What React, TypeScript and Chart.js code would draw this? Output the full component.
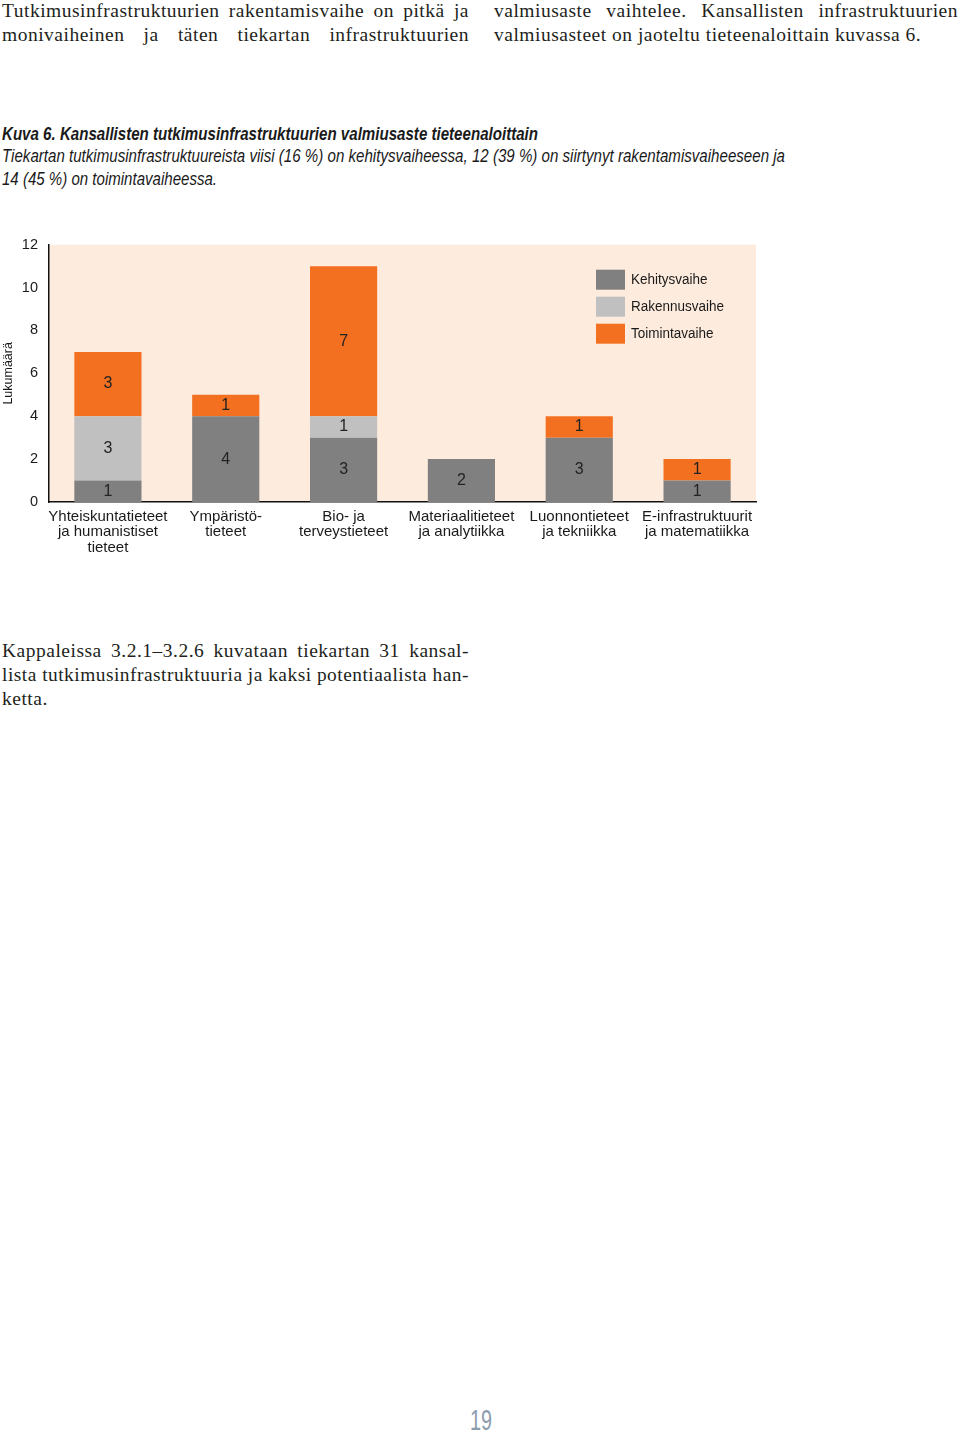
import React, { useEffect, useLayoutEffect, useRef } from "react";
import { Chart, registerables } from "chart.js";

Chart.register(...registerables);

// ---------- data ----------
const categories: string[][] = [
  ["Yhteiskuntatieteet", "ja humanistiset", "tieteet"],
  ["Ympäristö-", "tieteet"],
  ["Bio- ja", "terveystieteet"],
  ["Materiaalitieteet", "ja analytiikka"],
  ["Luonnontieteet", "ja tekniikka"],
  ["E-infrastruktuurit", "ja matematiikka"],
];
const seriesLabels = ["Kehitysvaihe", "Rakennusvaihe", "Toimintavaihe"];
const kehitysvaihe = [1, 4, 3, 2, 3, 1];
const rakennusvaihe = [3, 0, 1, 0, 0, 0];
const toimintavaihe = [3, 1, 7, 0, 1, 1];
const yTicks = [0, 2, 4, 6, 8, 10, 12];
const yTitle = "Lukumäärä";

const topLeftLines = [
  "Tutkimusinfrastruktuurien rakentamisvaihe on pitkä ja",
  "monivaiheinen ja täten tiekartan infrastruktuurien",
];
const topRightLines = [
  "valmiusaste vaihtelee. Kansallisten infrastruktuurien",
  "valmiusasteet on jaoteltu tieteenaloittain kuvassa 6.",
];
const captionTitle = "Kuva 6. Kansallisten tutkimusinfrastruktuurien valmiusaste tieteenaloittain";
const captionLines = [
  "Tiekartan tutkimusinfrastruktuureista viisi (16 %) on kehitysvaiheessa, 12 (39 %) on siirtynyt rakentamisvaiheeseen ja",
  "14 (45 %) on toimintavaiheessa.",
];
const bottomLines = [
  "Kappaleissa 3.2.1–3.2.6 kuvataan tiekartan 31 kansal-",
  "lista tutkimusinfrastruktuuria ja kaksi potentiaalista han-",
  "ketta.",
];
const pageNumber = "19";

// ---------- styles ----------
const DARK = "#808080";
const LIGHT = "#c0c0c0";
const ORANGE = "#f37021";
const PLOT_BG = "#fdebdd";
const SANS = "'Liberation Sans', Arial, sans-serif";
const SERIF = "'Liberation Serif', 'Times New Roman', serif";

type LineProps = {
  text: string;
  x: number;
  y: number;
  width: number;
  mode: "justify" | "left" | "fit";
  style: React.CSSProperties;
};

function Line({ text, x, y, width, mode, style }: LineProps) {
  const ref = useRef<HTMLSpanElement>(null);
  useLayoutEffect(() => {
    const apply = () => {
      const el = ref.current;
      if (!el) return;
      el.style.wordSpacing = "0px";
      el.style.transform = "none";
      const natural = el.getBoundingClientRect().width;
      const spaces = (text.match(/ /g) || []).length;
      if (mode === "fit" || natural > width) {
        el.style.transform = `scaleX(${width / natural})`;
      } else if (mode === "justify" && spaces > 0) {
        el.style.wordSpacing = `${(width - natural) / spaces}px`;
      }
    };
    apply();
    if ((document as any).fonts && (document as any).fonts.ready) {
      (document as any).fonts.ready.then(apply);
    }
  }, [text, width, mode]);
  return (
    <span
      ref={ref}
      style={{
        position: "absolute",
        left: x,
        top: y,
        whiteSpace: "pre",
        transformOrigin: "left top",
        display: "inline-block",
        ...style,
      }}
    >
      {text}
    </span>
  );
}

function BarChart() {
  const ref = useRef<HTMLCanvasElement>(null);
  useEffect(() => {
    if (!ref.current) return;
    const bgPlugin = {
      id: "plotBg",
      beforeDraw(chart: any) {
        const { ctx, chartArea: a } = chart;
        ctx.save();
        ctx.fillStyle = PLOT_BG;
        ctx.fillRect(a.left, a.top, a.right - a.left, a.bottom - a.top);
        ctx.restore();
      },
    };
    const valuePlugin = {
      id: "values",
      afterDatasetsDraw(chart: any) {
        const { ctx } = chart;
        ctx.save();
        ctx.font = `16px ${SANS}`;
        ctx.fillStyle = "#222";
        ctx.textAlign = "center";
        ctx.textBaseline = "middle";
        chart.data.datasets.forEach((ds: any, di: number) => {
          const meta = chart.getDatasetMeta(di);
          meta.data.forEach((el: any, i: number) => {
            const v = ds.data[i];
            if (!v) return;
            ctx.fillText(String(v), el.x, (el.y + el.base) / 2);
          });
        });
        ctx.restore();
      },
    };
    const legendPlugin = {
      id: "insideLegend",
      afterDraw(chart: any) {
        const { ctx, chartArea: a } = chart;
        const x0 = a.right - 160;
        const y0 = a.top + 25;
        chart.data.datasets.forEach((ds: any, i: number) => {
          const y = y0 + i * 27;
          ctx.save();
          ctx.fillStyle = ds.backgroundColor;
          ctx.fillRect(x0, y, 29, 20);
          ctx.font = `15.5px ${SANS}`;
          ctx.textAlign = "left";
          ctx.textBaseline = "middle";
          ctx.fillStyle = "#1a1a1a";
          ctx.translate(x0 + 35, y + 10);
          ctx.scale(0.87, 1);
          ctx.fillText(ds.label, 0, 0);
          ctx.restore();
        });
      },
    };
    const chart = new Chart(ref.current, {
      type: "bar",
      data: {
        labels: categories as any,
        datasets: [
          { label: seriesLabels[0], data: kehitysvaihe, backgroundColor: DARK },
          { label: seriesLabels[1], data: rakennusvaihe, backgroundColor: LIGHT },
          { label: seriesLabels[2], data: toimintavaihe, backgroundColor: ORANGE },
        ],
      },
      options: {
        responsive: false,
        animation: false,
        devicePixelRatio: 1,
        layout: { padding: { top: 19, right: 4, left: 0, bottom: 0 } },
        datasets: { bar: { barPercentage: 0.57, categoryPercentage: 1 } } as any,
        plugins: { legend: { display: false }, tooltip: { enabled: false } },
        scales: {
          x: {
            stacked: true,
            grid: { display: false, drawTicks: false },
            border: { display: true, color: "#111", width: 1.5 },
            ticks: {
              font: { family: SANS, size: 15, lineHeight: 1.03 },
              color: "#1a1a1a",
              padding: 7,
              maxRotation: 0,
              autoSkip: false,
            },
            afterFit(s: any) {
              s.height = 68;
            },
          },
          y: {
            stacked: true,
            min: 0,
            max: 12,
            grid: { display: false, drawTicks: false },
            border: { display: true, color: "#111", width: 1.5 },
            ticks: {
              font: { family: SANS, size: 14.5 },
              color: "#1a1a1a",
              padding: 11,
            },
            afterBuildTicks(s: any) {
              s.ticks = yTicks.map((v) => ({ value: v }));
            },
            title: {
              display: true,
              text: yTitle,
              font: { family: SANS, size: 12.5 },
              color: "#1a1a1a",
              padding: { top: 1, bottom: 0 },
            },
            afterFit(s: any) {
              s.width = 49;
            },
          },
        },
      },
      plugins: [bgPlugin, valuePlugin, legendPlugin],
    });
    return () => chart.destroy();
  }, []);
  return (
    <canvas
      ref={ref}
      width={760}
      height={345}
      style={{ position: "absolute", left: 0, top: 225, width: 760, height: 345 }}
    />
  );
}

export default function App() {
  const serif: React.CSSProperties = {
    fontFamily: SERIF,
    fontSize: 19.5,
    letterSpacing: "0.5px",
    lineHeight: "24px",
    color: "#231f20",
  };
  const capBold: React.CSSProperties = {
    fontFamily: SANS,
    fontSize: 18,
    lineHeight: "22px",
    fontWeight: "bold",
    fontStyle: "italic",
    color: "#1a1a1a",
  };
  const capIt: React.CSSProperties = {
    fontFamily: SANS,
    fontSize: 18,
    lineHeight: "22px",
    fontStyle: "italic",
    color: "#1a1a1a",
  };
  return (
    <div
      style={{
        position: "absolute",
        left: 0,
        top: 0,
        width: 960,
        height: 1437,
        background: "#fff",
        overflow: "hidden",
      }}
    >
      {topLeftLines.map((t, i) => (
        <Line key={"tl" + i} text={t} x={2} y={-1 + i * 24} width={467} mode="justify" style={serif} />
      ))}
      {topRightLines.map((t, i) => (
        <Line
          key={"tr" + i}
          text={t}
          x={494}
          y={-1 + i * 24}
          width={i === 0 ? 464 : 428}
          mode={i === 0 ? "justify" : "left"}
          style={serif}
        />
      ))}
      <Line text={captionTitle} x={2} y={123} width={536} mode="fit" style={capBold} />
      <Line text={captionLines[0]} x={2} y={145} width={783} mode="fit" style={capIt} />
      <Line text={captionLines[1]} x={2} y={168} width={215} mode="fit" style={capIt} />
      <BarChart />
      {bottomLines.map((t, i) => (
        <Line
          key={"b" + i}
          text={t}
          x={2}
          y={639 + i * 24}
          width={467}
          mode={i < 2 ? "justify" : "left"}
          style={serif}
        />
      ))}
      <Line
        text={pageNumber}
        x={470}
        y={1405}
        width={22}
        mode="fit"
        style={{ fontFamily: SANS, fontSize: 30, lineHeight: "30px", color: "#8c9cb0" }}
      />
    </div>
  );
}
